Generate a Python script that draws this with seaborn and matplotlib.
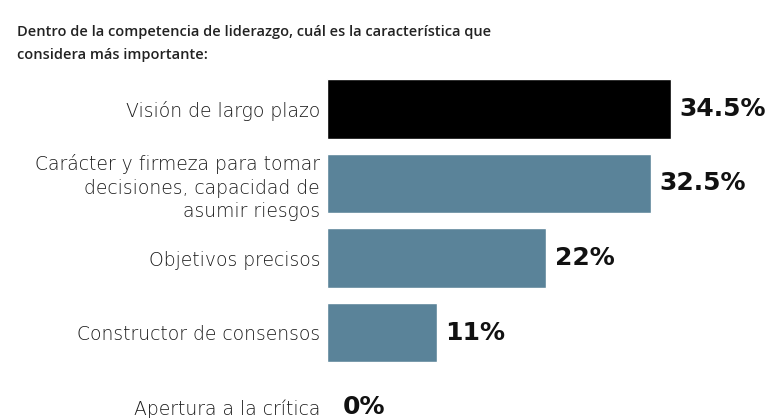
import matplotlib
matplotlib.use('Agg')
import matplotlib.pyplot as plt
import seaborn as sns
import pandas as pd

# Data
categories = [
    'Visión de largo plazo',
    'Carácter y firmeza para tomar\ndecisiones, capacidad de\nasumir riesgos',
    'Objetivos precisos',
    'Constructor de consensos',
    'Apertura a la crítica',
]
values = [34.5, 32.5, 22, 11, 0]
value_labels = ['34.5%', '32.5%', '22%', '11%', '0%']
bar_colors = ['#000000', '#5a8399', '#5a8399', '#5a8399', '#5a8399']

title_lines = [
    'Dentro de la competencia de liderazgo, cuál es la característica que',
    'considera más importante:',
]

sns.set_style('white')
plt.rcParams['font.family'] = ['Open Sans', 'DejaVu Sans']

df = pd.DataFrame({'categoria': categories, 'valor': values})

# row pitch and first row centre in pixels
pitch = 74.5
first = 109.0
top_px = first - 0.5 * pitch

fig = plt.figure(figsize=(7.77, 4.18), dpi=100)
ax = fig.add_axes([327 / 777, 0.0, 450 / 777, 1 - top_px / 418])

sns.barplot(data=df, x='valor', y='categoria', hue='categoria',
            palette=bar_colors, order=categories, hue_order=categories,
            orient='h', width=0.805, legend=False, ax=ax, saturation=1)

ax.set_xlim(0, 450 / 9.96)
ax.set_ylim((418 - first) / pitch, -0.5)
ax.set_xlabel('')
ax.set_ylabel('')
ax.set_xticks([])
sns.despine(ax=ax, left=True, bottom=True, top=True, right=True)
ax.tick_params(axis='y', length=0, pad=5)
for lbl in ax.get_yticklabels():
    lbl.set_family('DejaVu Sans')
    lbl.set_fontsize(13.5)
    lbl.set_fontweight('light')
    lbl.set_color('#1a1a1a')
    lbl.set_linespacing(1.3)
    lbl.set_horizontalalignment('right')
    lbl.set_multialignment('right')

# value labels next to the bars
for i, (v, txt) in enumerate(zip(values, value_labels)):
    ax.text(v + (0.85 if v > 0 else 1.6), i, txt, va='center', ha='left',
            fontsize=18, fontweight='bold', color='#111111',
            family='DejaVu Sans')

for k, line in enumerate(title_lines):
    fig.text(17 / 777, 1 - (32 + 23 * k) / 418, line, fontsize=10.5,
             fontweight='semibold', color='#222222', va='center', ha='left')

fig.savefig('out.png', dpi=100, facecolor='white')
